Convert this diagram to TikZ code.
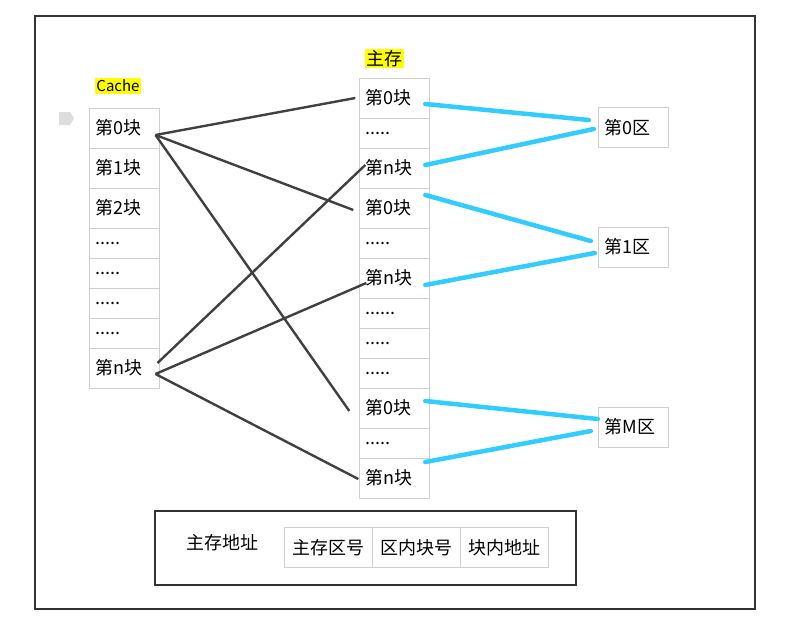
\documentclass[tikz,border=0pt]{standalone}
\usepackage{fontspec}
\setmainfont{Noto Sans CJK SC}
\usepackage{tikz}
\usetikzlibrary{positioning}
\definecolor{frameink}{HTML}{333333}
\definecolor{gridline}{HTML}{CFCFCF}
\definecolor{wire}{HTML}{404040}
\definecolor{linkblue}{HTML}{33CCFF}
\definecolor{hlyellow}{HTML}{FFFF00}
\definecolor{tagfill}{HTML}{DDDDDD}
\tikzset{
  blk/.style   ={draw=gridline, line width=1pt, minimum height=40pt, text width=58pt,
                 inner xsep=6pt, inner ysep=0pt, align=left, outer sep=0pt,
                 font=\fontsize{18}{20}\selectfont},
  dotblk/.style={blk, minimum height=30pt},
  addr/.style  ={draw=gridline, line width=1pt, minimum width=88pt, minimum height=40pt,
                 inner sep=0pt, outer sep=0pt, font=\fontsize{18}{20}\selectfont},
  hl/.style    ={fill=hlyellow, inner sep=1.5pt},
  map/.style   ={draw=wire, line width=2.4pt},
  zone/.style  ={draw=linkblue, line width=4.5pt, line cap=round}
}

\begin{document}
\begin{tikzpicture}[x=1pt, y=-1pt, node distance=0pt]
  \useasboundingbox (0,0) rectangle (797,634);
  \draw[frameink, line width=2pt] (35,16) rectangle (755,609);

  % cache
  \node[hl, font=\fontsize{15}{17}\selectfont] (cachelbl) at (118,86) {Cache};
  \fill[tagfill] (59,112) -- (70,112) -- (74,118.5) -- (70,125) -- (59,125) -- cycle;
  \node[blk] (c0) at (124.5,128) {第0块};
  \node[blk, below=of c0] (c1) {第1块};
  \node[blk, below=of c1] (c2) {第2块};
  \node[dotblk, below=of c2] (cd1) {.....};
  \node[dotblk, below=of cd1] (cd2) {.....};
  \node[dotblk, below=of cd2] (cd3) {.....};
  \node[dotblk, below=of cd3] (cd4) {.....};
  \node[blk, below=of cd4] (cn) {第n块};

  % main memory
  \node[hl, font=\fontsize{18}{20}\selectfont] (memlbl) at (384,58.5) {主存};
  \node[blk] (m0a) at (394.3,98) {第0块};
  \node[dotblk, below=of m0a] (md1) {.....};
  \node[blk, below=of md1] (mna) {第n块};
  \node[blk, below=of mna] (m0b) {第0块};
  \node[dotblk, below=of m0b] (md2) {.....};
  \node[blk, below=of md2] (mnb) {第n块};
  \node[dotblk, below=of mnb] (md3) {......};
  \node[dotblk, below=of md3] (md4) {.....};
  \node[dotblk, below=of md4] (md5) {.....};
  \node[blk, below=of md5] (m0c) {第0块};
  \node[dotblk, below=of m0c] (md6) {.....};
  \node[blk, below=of md6] (mnc) {第n块};

  % zones
  \node[blk] (z0) at (633.8,127.5) {第0区};
  \node[blk] (z1) at (633.8,247) {第1区};
  \node[blk] (zM) at (633.8,427) {第M区};

  % cache -> memory
  \draw[map] ([xshift=-4pt,yshift=-7pt]c0.east) -- ([xshift=-4pt]m0a.west);
  \draw[map] ([xshift=-4pt,yshift=-7pt]c0.east) -- ([xshift=-6pt,yshift=-2pt]m0b.west);
  \draw[map] ([xshift=-4pt,yshift=-7pt]c0.east) -- ([xshift=-10pt,yshift=-3pt]m0c.west);
  \draw[map] ([xshift=-2pt,yshift=5pt]cn.east) -- ([xshift=6pt,yshift=3pt]mna.west);
  \draw[map] ([xshift=-4pt,yshift=-6pt]cn.east) -- ([xshift=7pt,yshift=-5pt]mnb.west);
  \draw[map] ([xshift=-4pt,yshift=-6pt]cn.east) -- ([xshift=-1pt,yshift=-1pt]mnc.west);

  % memory -> zones
  \draw[zone] ([xshift=-4pt,yshift=-6pt]m0a.east) -- ([xshift=-10pt,yshift=7.5pt]z0.west);
  \draw[zone] ([xshift=-4pt,yshift=3pt]mna.east) -- ([xshift=-5pt,yshift=-1.5pt]z0.west);
  \draw[zone] ([xshift=-4pt,yshift=13pt]m0b.east) -- ([xshift=-8pt,yshift=6pt]z1.west);
  \draw[zone] ([xshift=-4pt,yshift=-7pt]mnb.east) -- ([xshift=-4pt,yshift=-6pt]z1.west);
  \draw[zone] ([xshift=-4pt,yshift=7pt]m0c.east) -- ([xshift=-1pt,yshift=8pt]zM.west);
  \draw[zone] ([xshift=-4pt,yshift=16pt]mnc.east) -- ([xshift=-8pt,yshift=-4pt]zM.west);

  % address
  \draw[frameink, line width=2.5pt] (155,511) rectangle (576,585);
  \node[font=\fontsize{18}{20}\selectfont] (addrlbl) at (222,543) {主存地址};
  \node[addr] (a1) at (328,547.5) {主存区号};
  \node[addr, right=of a1] (a2) {区内块号};
  \node[addr, right=of a2] (a3) {块内地址};
\end{tikzpicture}
\end{document}
